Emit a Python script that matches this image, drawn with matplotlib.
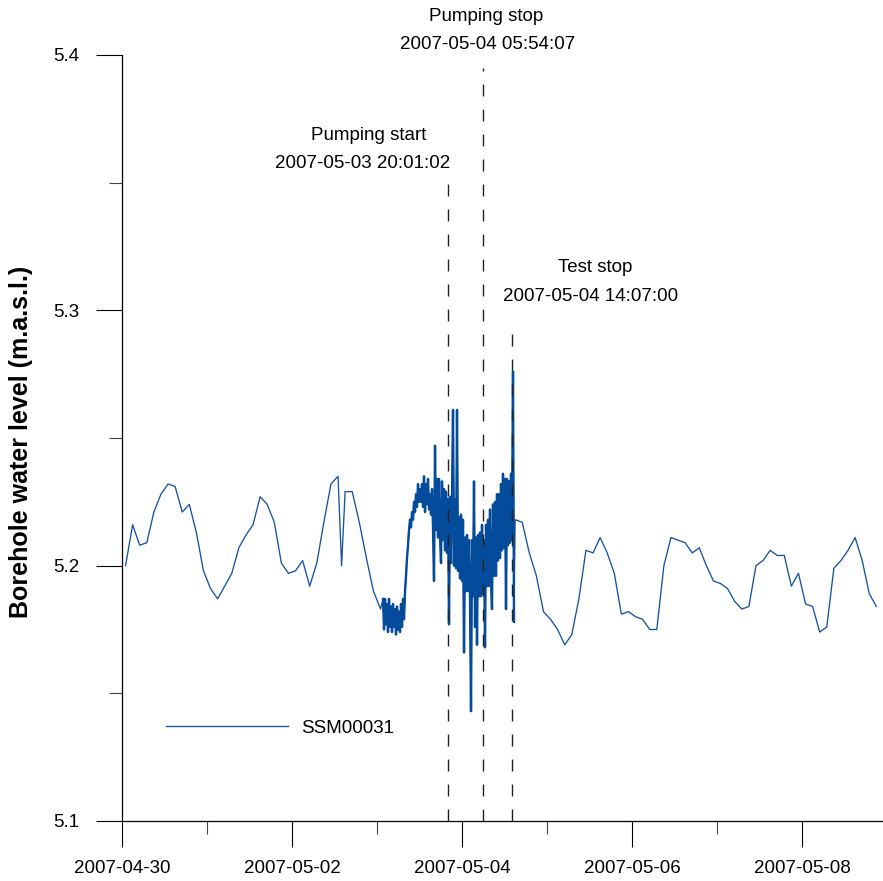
import numpy as np
import pandas as pd
import matplotlib
matplotlib.use("Agg")
import matplotlib.pyplot as plt
import matplotlib.dates as mdates
from matplotlib.ticker import FixedLocator, MultipleLocator

plt.rcParams['font.family'] = ['Liberation Sans', 'DejaVu Sans']

# borehole SSM00031, water level in m.a.s.l.
# 2-hourly logger values before the test (hours after 2007-04-30 00:00)
pre_hours = list(range(1, 62, 2)) + [62, 63, 65, 67, 69, 71, 73]
pre_level = [5.200, 5.216, 5.208, 5.209, 5.221, 5.228, 5.232, 5.231, 5.221, 5.224,
             5.213, 5.198, 5.191, 5.187, 5.192, 5.197, 5.207, 5.212, 5.216, 5.227,
             5.224, 5.217, 5.201, 5.197, 5.198, 5.202, 5.192, 5.201, 5.217, 5.232,
             5.235, 5.200, 5.229, 5.229, 5.217, 5.203, 5.190, 5.183]

# dense record during the pumping test
dense_start = "2007-05-03 01:42"
dense_end = "2007-05-04 14:41"
dense_level = [5.187, 5.175, 5.187, 5.177, 5.185, 5.174, 5.187, 5.176, 5.184, 5.174,
               5.185, 5.176, 5.183, 5.173, 5.184, 5.175, 5.182, 5.174, 5.185, 5.176,
               5.187, 5.179, 5.190, 5.196, 5.203, 5.208, 5.214, 5.218, 5.215, 5.221,
               5.218, 5.225, 5.221, 5.228, 5.223, 5.232, 5.225, 5.230, 5.225, 5.232,
               5.223, 5.235, 5.221, 5.232, 5.224, 5.234, 5.222, 5.228, 5.220, 5.230,
               5.215, 5.194, 5.247, 5.214, 5.234, 5.211, 5.234, 5.212, 5.201, 5.233,
               5.210, 5.230, 5.206, 5.229, 5.205, 5.226, 5.177, 5.227, 5.201, 5.226,
               5.261, 5.200, 5.226, 5.199, 5.261, 5.198, 5.219, 5.195, 5.220, 5.194,
               5.218, 5.166, 5.211, 5.190, 5.212, 5.190, 5.210, 5.188, 5.143, 5.210,
               5.188, 5.233, 5.176, 5.211, 5.169, 5.212, 5.188, 5.213, 5.188, 5.216,
               5.189, 5.210, 5.168, 5.216, 5.192, 5.218, 5.192, 5.222, 5.194, 5.183,
               5.224, 5.196, 5.225, 5.196, 5.228, 5.202, 5.228, 5.203, 5.232, 5.206,
               5.236, 5.207, 5.234, 5.183, 5.234, 5.208, 5.233, 5.209, 5.236, 5.210,
               5.276, 5.178]

# 2-hourly values after the test
post_start = "2007-05-04 15:00"
post_level = [5.218, 5.217, 5.205, 5.196, 5.182, 5.179, 5.175, 5.169, 5.173, 5.187,
              5.206, 5.205, 5.211, 5.205, 5.197, 5.181, 5.182, 5.180, 5.179, 5.175,
              5.175, 5.200, 5.211, 5.210, 5.209, 5.205, 5.207, 5.200, 5.194, 5.193,
              5.191, 5.186, 5.183, 5.184, 5.200, 5.202, 5.206, 5.204, 5.204, 5.192,
              5.197, 5.185, 5.184, 5.174, 5.176, 5.199, 5.202, 5.206, 5.211, 5.202,
              5.189, 5.184]

events = ["Pumping start", "Pumping stop", "Test stop"]
event_times = ["2007-05-03 20:01:02", "2007-05-04 05:54:07", "2007-05-04 14:07:00"]
event_tops = [5.35, 5.395, 5.296]

t0 = pd.Timestamp("2007-04-30")
t_pre = t0 + pd.to_timedelta(pre_hours, unit="h")
t_dense = pd.date_range(dense_start, dense_end, periods=len(dense_level))
t_post = pd.date_range(post_start, periods=len(post_level), freq="2h")

times = np.concatenate([t_pre.values, t_dense.values, t_post.values])
level = np.array(pre_level + dense_level + post_level)

fig = plt.figure(figsize=(8.83, 8.81), dpi=100)
ax = fig.add_axes([122 / 883, 60 / 881, 761 / 883, 766 / 881])

line_col = "#1553a2"
ax.plot(times, level, color=line_col, lw=0.95, label="SSM00031")
# the dense part is drawn a little heavier so the band reads solid
ax.plot(t_dense.values, dense_level, color="#054b9b", lw=1.7)

for ev, tt, top in zip(events, event_times, event_tops):
    ax.vlines(pd.Timestamp(tt), 5.1, top, colors="#222222", lw=1.0,
              linestyles=(0, (8.6, 9.4)))

fs = 13.5
# event captions
cap = [("Pumping start", 2.906, 5.3683), ("2007-05-03 20:01:02", 2.829, 5.3577),
       ("Pumping stop", 4.282, 5.4149), ("2007-05-04 05:54:07", 4.300, 5.4043),
       ("Test stop", 5.565, 5.3166), ("2007-05-04 14:07:00", 5.512, 5.3056)]
for s, d, y in cap:
    ax.text(t0 + pd.Timedelta(days=d), y, s, ha="center", va="center",
            fontsize=fs, clip_on=False)

ax.set_ylim(5.1, 5.4)
ax.set_xlim(t0, t0 + pd.Timedelta(days=8.953))

major = [t0 + pd.Timedelta(days=d) for d in range(0, 9, 2)]
minor = [t0 + pd.Timedelta(days=d) for d in range(1, 9, 2)]
ax.xaxis.set_major_locator(FixedLocator(mdates.date2num(major)))
ax.xaxis.set_minor_locator(FixedLocator(mdates.date2num(minor)))
ax.xaxis.set_major_formatter(mdates.DateFormatter("%Y-%m-%d"))
ax.yaxis.set_major_locator(MultipleLocator(0.1))
ax.yaxis.set_minor_locator(MultipleLocator(0.05))
ax.yaxis.set_major_formatter(plt.FuncFormatter(lambda v, p: f"{v:.1f}"))

ax.tick_params(which="major", direction="out", length=18.5, width=0.8,
               labelsize=fs, color="black")
ax.tick_params(axis="x", which="major", pad=9.5)
ax.tick_params(axis="y", which="major", pad=12)
ax.tick_params(which="minor", direction="out", length=9.4, width=0.8, color="#444444")

for s in ["top", "right"]:
    ax.spines[s].set_visible(False)
for s in ["left", "bottom"]:
    ax.spines[s].set_linewidth(0.9)

ax.set_ylabel("Borehole water level (m.a.s.l.)", fontsize=18, fontweight="bold")
ax.yaxis.set_label_coords(-89 / 761, 0.495)

ax.legend(loc="center left", bbox_to_anchor=(0.0578, 0.1214), frameon=False,
          fontsize=fs, handlelength=6.5, handletextpad=0.7, borderpad=0,
          borderaxespad=0)

fig.savefig("out.png", dpi=100)
